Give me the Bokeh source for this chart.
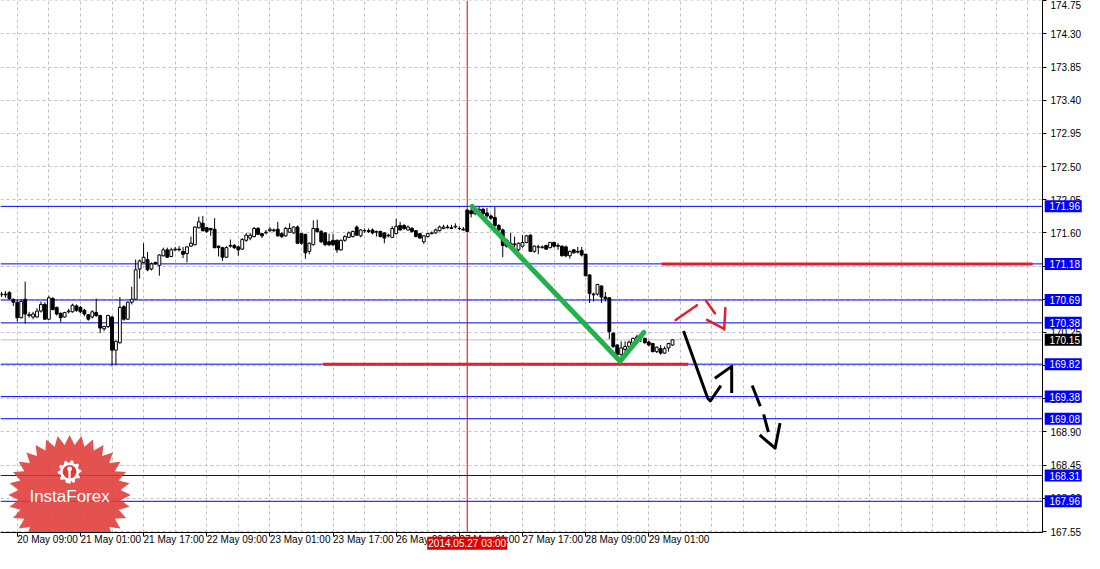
import math
from bokeh.plotting import figure
from bokeh.models import FixedTicker, Span, NumeralTickFormatter
from bokeh.core.properties import value
from bokeh.embed import file_html
from bokeh.resources import INLINE

# ---------------- data (H1 bars, bar index 0 = 20 May 09:00) ----------------
first_bar = -4
opens = [170.76, 170.77, 170.79, 170.70, 170.66, 170.45, 170.70, 170.49, 170.46, 170.46,
         170.54, 170.63, 170.43, 170.71, 170.59, 170.51, 170.46, 170.53, 170.53, 170.61,
         170.59, 170.55, 170.49, 170.46, 170.52, 170.48, 170.30, 170.33, 170.46, 170.01,
         170.11, 170.60, 170.43, 170.66, 170.70, 171.11, 171.20, 171.24, 171.11, 171.20,
         171.16, 171.29, 171.37, 171.28, 171.37, 171.38, 171.35, 171.32, 171.42, 171.44,
         171.67, 171.73, 171.67, 171.66, 171.65, 171.42, 171.40, 171.27, 171.42, 171.43,
         171.41, 171.38, 171.50, 171.53, 171.55, 171.66, 171.59, 171.60, 171.63, 171.64,
         171.65, 171.59, 171.56, 171.61, 171.60, 171.68, 171.59, 171.58, 171.35, 171.44,
         171.66, 171.62, 171.60, 171.48, 171.50, 171.50, 171.37, 171.50, 171.54, 171.55,
         171.68, 171.56, 171.63, 171.63, 171.64, 171.61, 171.62, 171.60, 171.56, 171.54,
         171.59, 171.70, 171.70, 171.64, 171.66, 171.63, 171.59, 171.48, 171.55, 171.59,
         171.60, 171.63, 171.66, 171.68, 171.67, 171.68, 171.66, 171.65, 171.91, 171.90,
         171.86, 171.90, 171.92, 171.87, 171.83, 171.81, 171.70, 171.64, 171.50, 171.40,
         171.45, 171.37, 171.42, 171.47, 171.57, 171.35, 171.41, 171.40, 171.43, 171.40,
         171.47, 171.43, 171.42, 171.41, 171.29, 171.37, 171.35, 171.36, 171.31, 171.03,
         170.77, 170.77, 170.88, 170.73, 170.72, 170.24, 170.08, 169.95, 170.02, 170.06,
         170.11, 170.17, 170.19, 170.17, 170.12, 170.10, 169.99, 170.03, 169.97, 170.04,
         170.08]
highs = [170.80, 170.81, 170.81, 170.71, 170.70, 170.70, 170.94, 170.53, 170.53, 170.58,
         170.67, 170.66, 170.75, 170.73, 170.60, 170.52, 170.53, 170.57, 170.64, 170.63,
         170.61, 170.57, 170.50, 170.55, 170.71, 170.49, 170.34, 170.49, 170.47, 170.14,
         170.73, 170.62, 170.67, 170.87, 171.24, 171.24, 171.46, 171.34, 171.20, 171.21,
         171.31, 171.40, 171.40, 171.40, 171.41, 171.42, 171.41, 171.42, 171.55, 171.69,
         171.82, 171.83, 171.68, 171.67, 171.80, 171.43, 171.41, 171.42, 171.51, 171.45,
         171.43, 171.53, 171.60, 171.60, 171.68, 171.68, 171.60, 171.64, 171.68, 171.66,
         171.75, 171.61, 171.68, 171.73, 171.69, 171.70, 171.60, 171.59, 171.47, 171.77,
         171.78, 171.64, 171.61, 171.59, 171.59, 171.51, 171.51, 171.57, 171.62, 171.63,
         171.70, 171.65, 171.66, 171.66, 171.66, 171.63, 171.63, 171.61, 171.59, 171.69,
         171.79, 171.75, 171.72, 171.70, 171.68, 171.64, 171.60, 171.57, 171.60, 171.62,
         171.66, 171.70, 171.71, 171.71, 171.71, 171.73, 171.69, 171.68, 171.92, 171.94,
         171.94, 171.96, 171.94, 171.94, 171.85, 171.95, 171.72, 171.66, 171.52, 171.60,
         171.55, 171.47, 171.57, 171.57, 171.58, 171.43, 171.44, 171.43, 171.44, 171.48,
         171.48, 171.46, 171.43, 171.43, 171.36, 171.38, 171.41, 171.41, 171.32, 171.04,
         170.79, 170.91, 170.89, 170.80, 170.73, 170.25, 170.09, 170.13, 170.13, 170.14,
         170.18, 170.22, 170.21, 170.18, 170.14, 170.11, 170.06, 170.08, 170.06, 170.11,
         170.16]
lows = [170.73, 170.72, 170.69, 170.61, 170.40, 170.44, 170.37, 170.45, 170.43, 170.45,
        170.52, 170.42, 170.42, 170.55, 170.48, 170.39, 170.45, 170.51, 170.52, 170.53,
        170.51, 170.47, 170.41, 170.44, 170.46, 170.24, 170.27, 170.31, 169.79, 169.81,
        170.10, 170.41, 170.42, 170.63, 170.69, 170.98, 171.19, 171.08, 171.09, 171.17,
        171.02, 171.28, 171.26, 171.27, 171.35, 171.35, 171.26, 171.20, 171.41, 171.43,
        171.66, 171.62, 171.60, 171.56, 171.39, 171.28, 171.22, 171.26, 171.40, 171.38,
        171.29, 171.37, 171.48, 171.50, 171.54, 171.57, 171.53, 171.58, 171.61, 171.61,
        171.55, 171.53, 171.55, 171.60, 171.59, 171.45, 171.44, 171.25, 171.31, 171.43,
        171.60, 171.46, 171.42, 171.42, 171.42, 171.33, 171.36, 171.48, 171.53, 171.54,
        171.56, 171.54, 171.60, 171.60, 171.58, 171.55, 171.54, 171.46, 171.54, 171.53,
        171.58, 171.63, 171.64, 171.63, 171.60, 171.54, 171.52, 171.45, 171.54, 171.58,
        171.59, 171.62, 171.65, 171.66, 171.65, 171.66, 171.64, 171.63, 171.61, 171.81,
        171.84, 171.88, 171.84, 171.80, 171.78, 171.68, 171.62, 171.27, 171.40, 171.38,
        171.40, 171.35, 171.40, 171.46, 171.34, 171.33, 171.31, 171.39, 171.37, 171.39,
        171.40, 171.37, 171.28, 171.27, 171.25, 171.32, 171.32, 171.28, 171.01, 170.65,
        170.67, 170.75, 170.65, 170.67, 170.16, 170.04, 169.91, 169.92, 169.97, 170.04,
        170.09, 170.15, 170.12, 170.10, 170.06, 169.98, 169.97, 169.95, 169.96, 169.99,
        170.07]
closes = [170.77, 170.76, 170.71, 170.66, 170.45, 170.67, 170.50, 170.48, 170.50, 170.54,
          170.63, 170.43, 170.72, 170.56, 170.50, 170.45, 170.52, 170.54, 170.62, 170.55,
          170.53, 170.50, 170.43, 170.53, 170.48, 170.31, 170.33, 170.48, 170.01, 170.13,
          170.59, 170.43, 170.66, 170.70, 171.10, 171.22, 171.27, 171.10, 171.18, 171.18,
          171.30, 171.37, 171.27, 171.37, 171.38, 171.37, 171.31, 171.41, 171.46, 171.68,
          171.75, 171.63, 171.62, 171.64, 171.40, 171.40, 171.27, 171.40, 171.43, 171.40,
          171.37, 171.51, 171.57, 171.57, 171.66, 171.58, 171.56, 171.61, 171.65, 171.63,
          171.56, 171.55, 171.66, 171.66, 171.68, 171.46, 171.46, 171.33, 171.46, 171.66,
          171.62, 171.48, 171.44, 171.44, 171.44, 171.37, 171.50, 171.55, 171.60, 171.62,
          171.57, 171.64, 171.63, 171.62, 171.60, 171.62, 171.55, 171.53, 171.57, 171.66,
          171.69, 171.64, 171.66, 171.68, 171.62, 171.55, 171.53, 171.56, 171.59, 171.60,
          171.64, 171.68, 171.68, 171.67, 171.66, 171.69, 171.66, 171.64, 171.62, 171.86,
          171.92, 171.92, 171.86, 171.83, 171.80, 171.70, 171.64, 171.43, 171.42, 171.46,
          171.44, 171.46, 171.47, 171.56, 171.35, 171.42, 171.41, 171.41, 171.38, 171.47,
          171.42, 171.42, 171.29, 171.29, 171.35, 171.33, 171.34, 171.30, 171.02, 170.78,
          170.76, 170.90, 170.73, 170.71, 170.26, 170.06, 169.95, 170.04, 170.06, 170.12,
          170.17, 170.19, 170.18, 170.11, 170.08, 169.99, 170.05, 169.97, 170.03, 170.10,
          170.15]

x_tick_bars = [0, 16, 32, 48, 64, 80, 96, 112, 128, 144, 160]
x_tick_labels = ["20 May 09:00", "21 May 01:00", "21 May 17:00", "22 May 09:00",
                 "23 May 01:00", "23 May 17:00", "26 May 09:00", "27 May 01:00",
                 "27 May 17:00", "28 May 09:00", "29 May 01:00"]
grid_bars = list(range(-8, 264, 8))
price_ticks = [167.55, 168.00, 168.45, 168.90, 169.35, 169.80, 170.25, 170.70,
               171.15, 171.60, 172.05, 172.50, 172.95, 173.40, 173.85, 174.30, 174.75]
level_prices = [171.96, 171.18, 170.69, 170.38, 169.82, 169.38, 169.08, 168.31, 167.96]
current_price = 170.15
marker_bar = 114
marker_label = "2014.05.27 03:00"

# drawn analysis marks (bar index, price)
green_x = [115.25, 152.75, 158.75]
green_y = [171.96, 169.86, 170.25]
red_level_x0 = [163.25, 77.5]
red_level_x1 = [257.25, 170.0]
red_level_y = [171.18, 169.82]
red_arrow_xs = [[166.8, 172.2], [174.5, 176.75], [174.75, 179.1], [179.4, 179.1]]
red_arrow_ys = [[170.42, 170.62], [170.68, 170.51], [170.42, 170.30], [170.58, 170.29]]
black_arrow_xs = [[168.8, 174.9, 175.6, 178.25], [176.75, 181.0, 181.0]]
black_arrow_ys = [[170.27, 169.36, 169.32, 169.53], [169.63, 169.79, 169.43]]
dash_arrow_xs = [[186.2, 188.25], [189.1, 190.3], [188.1, 192.0, 193.25]]
dash_arrow_ys = [[169.53, 169.25], [169.14, 168.90], [168.86, 168.68, 169.02]]

# ---------------- figure ----------------
X0, X1 = -4.25, 259.75
Y0, Y1 = 167.537, 174.752
px_per_bar, px_per_unit = 4.0, 76.1   # reference scale (used for decoration geometry)

p = figure(width=1084, height=553, x_range=(X0, X1), y_range=(Y0, Y1),
           y_axis_location="right", toolbar_location=None, output_backend="svg",
           min_border_left=0, min_border_top=0, min_border_right=0, min_border_bottom=0,
           background_fill_color="white", border_fill_color="white")
p.outline_line_color = None

FONT = "Liberation Sans"

# grids
p.xgrid.ticker = FixedTicker(ticks=grid_bars)
for g in (p.xgrid, p.ygrid):
    g.grid_line_color = "#C0C0C0"
    g.grid_line_dash = "3 3"
    g.grid_line_width = 1

# axes
p.xaxis.ticker = FixedTicker(ticks=x_tick_bars)
p.xaxis.major_label_overrides = {b: t for b, t in zip(x_tick_bars, x_tick_labels)}
p.xaxis.major_label_orientation = -1e-4   # tiny angle -> labels start at the tick
p.yaxis.ticker = FixedTicker(ticks=price_ticks)
p.yaxis.formatter = NumeralTickFormatter(format="0.00")
for ax in (p.xaxis, p.yaxis):
    ax.axis_label = None
    ax.axis_label_standoff = 0
    ax.axis_line_color = "black"
    ax.major_tick_line_color = "black"
    ax.minor_tick_line_color = None
    ax.major_tick_out = 4
    ax.major_tick_in = 0
    ax.major_label_text_font = FONT
    ax.major_label_text_font_size = "10px"
    ax.major_label_text_color = "black"
    ax.major_label_standoff = 4
p.xaxis.major_label_standoff = 3

# level lines
for lv in level_prices:
    p.add_layout(Span(location=lv, dimension="width", line_color="#0000FF",
                      line_width=1, level="underlay"))
p.add_layout(Span(location=current_price, dimension="width", line_color="#C0C0C0",
                  line_width=1, level="underlay"))
p.add_layout(Span(location=marker_bar, dimension="height", line_color="#E00000",
                  line_width=1, level="underlay"))

# logo (starburst) behind candles
cx, cy = 13.25, 168.045
n_pts = 32
sx, sy = [], []
for i in range(2 * n_pts):
    r = 62 if i % 2 == 0 else 52
    a = math.pi / 2 + i * math.pi / n_pts
    sx.append(cx + r * math.cos(a) / px_per_bar)
    sy.append(cy + r * math.sin(a) / px_per_unit)
p.patch(sx, sy, fill_color="#DF3A36", fill_alpha=0.88, line_color=None)
# gear icon
gx, gy = cx, cy + 24 / px_per_unit
gxs, gys = [], []
for i in range(40):
    a = i * 2 * math.pi / 40
    r = 12 if (i // 2) % 2 == 0 else 9.5
    gxs.append(gx + r * math.cos(a) / px_per_bar)
    gys.append(gy + r * math.sin(a) / px_per_unit)
p.patch(gxs, gys, fill_color="white", line_color=None)
p.ellipse([gx], [gy], width=14 / px_per_bar, height=14 / px_per_unit,
          fill_color="#DF3A36", line_color=None)
p.ellipse([gx], [gy + 3 / px_per_unit], width=5 / px_per_bar, height=5 / px_per_unit,
          fill_color="white", line_color=None)
p.quad(left=[gx - 1.2 / px_per_bar], right=[gx + 1.2 / px_per_bar],
       bottom=[gy - 12 / px_per_unit], top=[gy + 1 / px_per_unit],
       fill_color="white", line_color=None)
p.text([cx], [cy - 1 / px_per_unit], text=["InstaForex"], text_color="white",
       text_font=value(FONT), text_font_size="17px", text_align="center",
       text_baseline="middle")

# candles
xs = list(range(first_bar, first_bar + len(opens)))
tops = [max(o, c) for o, c in zip(opens, closes)]
bots = [min(o, c) for o, c in zip(opens, closes)]
fills = ["white" if c >= o else "black" for o, c in zip(opens, closes)]
p.segment(xs, highs, xs, lows, line_color="black", line_width=1)
p.vbar(x=xs, width=0.72, top=tops, bottom=bots, fill_color=fills,
       line_color="black", line_width=1)

# analysis drawings
p.segment(red_level_x0, red_level_y, red_level_x1, red_level_y,
          line_color="#E3202A", line_width=3)
p.line(green_x, green_y, line_color="#22B14C", line_width=5, line_cap="round",
       line_join="round")
p.multi_line(red_arrow_xs, red_arrow_ys, line_color="#E3202A", line_width=2.5,
             line_cap="round")
p.multi_line(black_arrow_xs, black_arrow_ys, line_color="black", line_width=3,
             line_join="round")
p.multi_line(dash_arrow_xs, dash_arrow_ys, line_color="black", line_width=3,
             line_join="round")

# price tags on the right scale (overlay level so they sit on the axis)
tag_prices = level_prices + [current_price]
tag_colors = ["#0000FF"] * len(level_prices) + ["black"]
tag_text = [f"{v:.2f}" for v in tag_prices]
p.rect(x=[X1 + 21 / px_per_bar] * len(tag_prices), y=tag_prices, width=37, height=12,
       width_units="screen", height_units="screen", fill_color=tag_colors,
       line_color=None, level="overlay")
p.text(x=[X1 + 7 / px_per_bar] * len(tag_prices), y=tag_prices, text=tag_text,
       text_color="white", text_font=value(FONT), text_font_size="10px",
       text_align="left", text_baseline="middle", level="overlay")
# time tag on the time scale
tag_y = Y0 - 11 / px_per_unit
p.rect(x=[marker_bar], y=[tag_y], width=80, height=13, width_units="screen",
       height_units="screen", fill_color="#E00000", line_color=None, level="overlay")
p.text(x=[marker_bar], y=[tag_y], text=[marker_label], text_color="white",
       text_font=value(FONT), text_font_size="10px", text_align="center",
       text_baseline="middle", level="overlay")

open("out.html", "w").write(file_html(p, INLINE))
